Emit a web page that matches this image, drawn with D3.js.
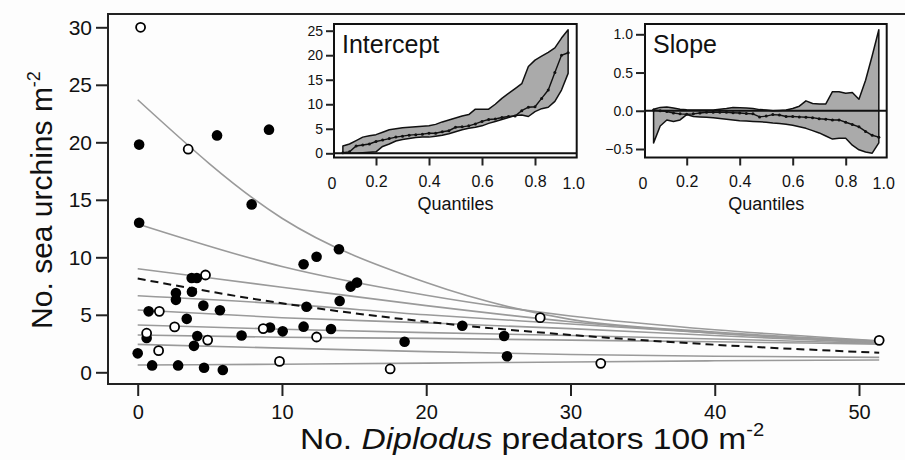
<!DOCTYPE html>
<html>
<head>
<meta charset="utf-8">
<script src="https://cdn.jsdelivr.net/npm/d3@7"></script>
<style>
  body { margin: 0; background: #fdfdfd; }
  svg { display: block; }
  text { font-family: "Liberation Sans", Arial, sans-serif; fill: #111; }
  .tick line { stroke: #222; stroke-width: 2; }
</style>
</head>
<body>
<div id="chart"></div>
<script>
// ---- main scatter: open / filled sites
const filledX = [0.1, 5.5, 9.1, 7.9, 0.1, 11.5, 12.4, 13.95, 3.74, 4.1, 2.65, 3.76, 2.65, 4.55, 5.7, 0.76, 3.4, 11.5, 9.17, 10.05, 0.62, 4.13, 7.2, 3.9, 0, 1.0, 2.8, 4.6, 5.9, 14.76, 15.2, 11.7, 14.0, 13.4, 18.5, 22.5, 25.4, 25.6];
const filledY = [19.8, 20.6, 21.1, 14.6, 13.0, 9.4, 10.05, 10.7, 8.2, 8.2, 6.9, 7.0, 6.3, 5.8, 5.4, 5.3, 4.65, 3.97, 3.9, 3.56, 2.98, 3.15, 3.2, 2.3, 1.65, 0.6, 0.6, 0.4, 0.2, 7.45, 7.8, 5.7, 6.2, 3.77, 2.66, 4.05, 3.16, 1.39];
const openX = [0.2, 3.5, 4.7, 1.5, 2.56, 8.7, 0.62, 4.85, 12.4, 1.45, 9.83, 17.5, 27.9, 32.1, 51.4];
const openY = [30, 19.4, 8.46, 5.3, 3.95, 3.8, 3.4, 2.8, 3.07, 1.88, 0.95, 0.29, 4.75, 0.78, 2.78];

// ---- fitted quantile curves (read at these x positions)
const fitX = [0, 10, 20, 30, 40, 51.4];
const fitLines = [
  [23.7, 13.4, 7.8, 4.6, 3.5, 2.7],
  [12.9, 9.2, 6.7, 4.9, 3.7, 2.75],
  [9.0, 7.4, 5.8, 4.4, 3.4, 2.6],
  [6.66, 5.95, 5.0, 4.2, 3.4, 2.6],
  [5.42, 4.75, 4.3, 3.8, 3.2, 2.55],
  [4.11, 3.75, 3.45, 3.2, 2.9, 2.5],
  [3.24, 3.05, 2.95, 2.8, 2.65, 2.45],
  [2.43, 2.1, 1.8, 1.55, 1.4, 1.3],
  [0.63, 0.7, 0.8, 0.9, 1.0, 1.07]
];
const meanFit = [8.15, 6.0, 4.4, 3.25, 2.4, 1.7];

const xTicks = [0, 10, 20, 30, 40, 50];
const yTicks = [0, 5, 10, 15, 20, 25, 30];

// ---- inset data
const quantiles = [0.075, 0.1, 0.125, 0.15, 0.175, 0.2, 0.225, 0.25, 0.275, 0.3, 0.325, 0.35, 0.375, 0.4, 0.425, 0.45, 0.475, 0.5, 0.525, 0.55, 0.575, 0.6, 0.625, 0.65, 0.675, 0.7, 0.725, 0.75, 0.775, 0.8, 0.825, 0.85, 0.875, 0.9, 0.925];
const interceptMid = [0.1, 0.3, 1.5, 1.7, 1.9, 2.4, 2.7, 3.0, 3.3, 3.5, 3.7, 3.8, 3.9, 4.1, 4.1, 4.4, 4.6, 5.3, 5.4, 5.6, 6.0, 6.5, 6.9, 7.0, 7.3, 7.5, 7.6, 8.7, 9.4, 9.5, 11.2, 12.9, 16.5, 20.0, 20.5];
const interceptHi = [1.5, 1.9, 2.6, 3.3, 3.6, 3.8, 4.3, 4.8, 5.0, 5.2, 5.3, 5.4, 5.5, 5.6, 5.9, 6.4, 6.8, 7.2, 7.6, 7.9, 9.0, 9.0, 9.0, 10.0, 11.2, 12.2, 13.2, 14.2, 17.7, 19.0, 19.8, 20.6, 21.5, 23.5, 25.2];
const interceptLo = [0, 0, 0, 0.1, 0.2, 0.3, 1.4, 1.9, 2.5, 2.8, 3.0, 3.2, 3.3, 3.3, 3.5, 3.7, 4.0, 4.4, 4.8, 5.1, 5.3, 5.6, 6.1, 6.5, 6.9, 7.3, 7.7, 7.8, 7.5, 8.5, 9.1, 9.4, 10.6, 12.9, 16.3];
const slopeMid = [0.01, 0.0, -0.01, -0.03, -0.04, -0.045, -0.04, -0.03, -0.02, -0.02, -0.02, -0.02, -0.025, -0.03, -0.035, -0.04, -0.08, -0.07, -0.05, -0.055, -0.075, -0.075, -0.08, -0.085, -0.09, -0.105, -0.11, -0.12, -0.12, -0.15, -0.18, -0.21, -0.27, -0.32, -0.345];
const slopeHi = [0.02, 0.044, 0.05, 0.035, 0.02, 0.013, 0.01, 0.01, 0.01, 0.01, 0.02, 0.03, 0.044, 0.04, 0.035, 0.03, 0.015, 0.01, 0.0, 0.005, 0.01, 0.03, 0.06, 0.13, 0.095, 0.09, 0.09, 0.25, 0.25, 0.23, 0.24, 0.15, 0.4, 0.72, 1.06];
const slopeLo = [-0.42, -0.2, -0.12, -0.14, -0.12, -0.05, -0.075, -0.08, -0.085, -0.09, -0.1, -0.11, -0.12, -0.13, -0.135, -0.14, -0.145, -0.15, -0.16, -0.165, -0.175, -0.19, -0.21, -0.23, -0.26, -0.29, -0.33, -0.37, -0.36, -0.36, -0.45, -0.51, -0.54, -0.555, -0.42];

const width = 905, height = 460;

const svg = d3.select('#chart').append('svg')
  .attr('width', width)
  .attr('height', height);

// main scales
const x = d3.scaleLinear().domain([0, 50]).range([137.7, 859]);
const y = d3.scaleLinear().domain([0, 30]).range([372.3, 27.3]);
const frame = {left: 108, top: 14, right: 912, bottom: 384};

// fitted curves
const fitLine = d3.line()
  .x((d, i) => x(fitX[i]))
  .y(d => y(d))
  .curve(d3.curveMonotoneX);

svg.append('g').selectAll('path')
  .data(fitLines)
  .join('path')
  .attr('d', fitLine)
  .attr('fill', 'none')
  .attr('stroke', '#9a9a9a')
  .attr('stroke-width', 1.6);

svg.append('path')
  .attr('d', fitLine(meanFit))
  .attr('fill', 'none')
  .attr('stroke', '#111')
  .attr('stroke-width', 2)
  .attr('stroke-dasharray', '8,5');

// points
svg.append('g').selectAll('circle')
  .data(filledX.map((v, i) => [v, filledY[i]]))
  .join('circle')
  .attr('cx', d => x(d[0]))
  .attr('cy', d => y(d[1]))
  .attr('r', 5.3)
  .attr('fill', '#000');

svg.append('g').selectAll('circle')
  .data(openX.map((v, i) => [v, openY[i]]))
  .join('circle')
  .attr('cx', d => x(d[0]))
  .attr('cy', d => y(d[1]))
  .attr('r', 4.5)
  .attr('fill', '#fff')
  .attr('stroke', '#000')
  .attr('stroke-width', 1.8);

// frame
svg.append('rect')
  .attr('x', frame.left).attr('y', frame.top)
  .attr('width', frame.right - frame.left)
  .attr('height', frame.bottom - frame.top)
  .attr('fill', 'none')
  .attr('stroke', '#222')
  .attr('stroke-width', 2);

// axes
const yAxis = svg.append('g')
  .attr('transform', `translate(${frame.left},0)`)
  .call(d3.axisLeft(y).tickValues(yTicks).tickSize(12).tickPadding(4));
yAxis.select('.domain').remove();
yAxis.selectAll('text').style('font-size', '21px');

const xAxis = svg.append('g')
  .attr('transform', `translate(0,${frame.bottom})`)
  .call(d3.axisBottom(x).tickValues(xTicks).tickSize(12).tickPadding(9));
xAxis.select('.domain').remove();
xAxis.selectAll('text').style('font-size', '20px');

// axis titles
const yTitle = svg.append('text')
  .attr('transform', 'translate(52,200) rotate(-90)')
  .attr('text-anchor', 'middle')
  .style('font-size', '30px');
yTitle.append('tspan').text('No. sea urchins m');
yTitle.append('tspan').attr('dy', -12).style('font-size', '18px').text('-2');

// the reference title is drawn slightly stretched horizontally
const xTitle = svg.append('text')
  .attr('transform', 'translate(532,449) scale(1.12,1)')
  .attr('text-anchor', 'middle')
  .style('font-size', '30px');
xTitle.append('tspan').text('No. ');
xTitle.append('tspan').style('font-style', 'italic').text('Diplodus');
xTitle.append('tspan').text(' predators 100 m');
xTitle.append('tspan').attr('dy', -13).style('font-size', '18px').text('-2');

// ---- insets
function inset(cfg) {
  const g = svg.append('g');
  const qx = d3.scaleLinear().domain([0, 1]).range(cfg.xRange);
  const vy = d3.scaleLinear().domain(cfg.yDomain).range(cfg.yRange);
  const box = cfg.box;

  g.append('rect')
    .attr('x', box[0]).attr('y', box[1])
    .attr('width', box[2] - box[0]).attr('height', box[3] - box[1])
    .attr('fill', '#fff');

  const band = d3.area()
    .x((d, i) => qx(quantiles[i]))
    .y0((d, i) => vy(cfg.lo[i]))
    .y1(d => vy(d));
  g.append('path')
    .attr('d', band(cfg.hi))
    .attr('fill', '#aaaaaa')
    .attr('stroke', '#111')
    .attr('stroke-width', 1.5)
    .attr('stroke-linejoin', 'round');

  g.append('line')
    .attr('x1', box[0]).attr('x2', box[2])
    .attr('y1', vy(0)).attr('y2', vy(0))
    .attr('stroke', '#111').attr('stroke-width', 2);

  const mid = d3.line()
    .x((d, i) => qx(quantiles[i]))
    .y(d => vy(d));
  g.append('path')
    .attr('d', mid(cfg.mid))
    .attr('fill', 'none')
    .attr('stroke', '#111')
    .attr('stroke-width', 1.4);
  g.append('g').selectAll('circle')
    .data(cfg.mid)
    .join('circle')
    .attr('cx', (d, i) => qx(quantiles[i]))
    .attr('cy', d => vy(d))
    .attr('r', 1.5)
    .attr('fill', '#111');

  g.append('rect')
    .attr('x', box[0]).attr('y', box[1])
    .attr('width', box[2] - box[0]).attr('height', box[3] - box[1])
    .attr('fill', 'none')
    .attr('stroke', '#111')
    .attr('stroke-width', 2);

  const ya = g.append('g')
    .attr('transform', `translate(${box[0]},0)`)
    .call(d3.axisLeft(vy).tickValues(cfg.yTicks).tickSize(cfg.yTickSize).tickPadding(3)
      .tickFormat(cfg.yFormat));
  ya.select('.domain').remove();
  ya.selectAll('text').style('font-size', '14px');

  const xa = g.append('g')
    .attr('transform', `translate(0,${box[3]})`)
    .call(d3.axisBottom(qx).tickValues([0.2, 0.4, 0.6, 0.8]).tickSize(8).tickPadding(10)
      .tickFormat(d3.format('.1f')));
  xa.select('.domain').remove();
  xa.selectAll('text').style('font-size', '16px');

  g.append('text').attr('x', box[0] - 2).attr('y', 188.5)
    .attr('text-anchor', 'middle').style('font-size', '16px').text('0');
  g.append('text').attr('x', box[2] - 3).attr('y', 188.5)
    .attr('text-anchor', 'middle').style('font-size', '16px').text('1.0');

  g.append('text')
    .attr('x', (cfg.xRange[0] + cfg.xRange[1]) / 2).attr('y', 210)
    .attr('text-anchor', 'middle')
    .style('font-size', '18px')
    .text('Quantiles');

  g.append('text')
    .attr('x', box[0] + 8).attr('y', 53)
    .style('font-size', '25px')
    .text(cfg.title);
}

inset({
  title: 'Intercept',
  xRange: [323, 588],
  yDomain: [0, 25], yRange: [153.3, 30.7],
  box: [334, 24, 576.7, 157.5],
  yTicks: [0, 5, 10, 15, 20, 25], yTickSize: 8,
  yFormat: d3.format('d'),
  mid: interceptMid, hi: interceptHi, lo: interceptLo
});

inset({
  title: 'Slope',
  xRange: [633.7, 898.7],
  yDomain: [-0.5, 1], yRange: [149, 34.3],
  box: [645, 24, 886.7, 157.5],
  yTicks: [-0.5, 0, 0.5, 1], yTickSize: 9,
  yFormat: d3.format('.1f'),
  mid: slopeMid, hi: slopeHi, lo: slopeLo
});
</script>
</body>
</html>
